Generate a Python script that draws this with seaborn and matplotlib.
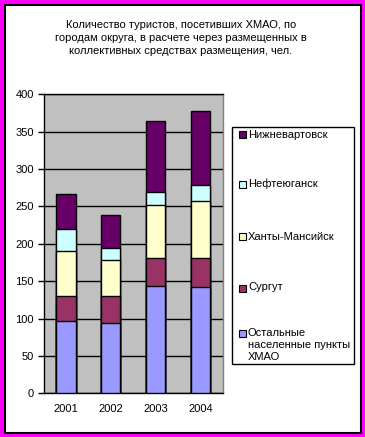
import matplotlib
matplotlib.use("Agg")
import matplotlib.pyplot as plt
from matplotlib.patches import Rectangle
import seaborn as sns
import pandas as pd
import numpy as np

years = ["2001", "2002", "2003", "2004"]
series_names = ["Остальные\nнаселенные пункты\nХМАО", "Сургут", "Ханты-Мансийск", "Нефтеюганск", "Нижневартовск"]
ostalnye = [97, 94, 144, 142]
surgut = [33, 36, 37, 39]
khanty = [61, 48, 71, 76]
nefte = [29, 17, 17, 21]
nizhnev = [47, 44, 95, 100]
colors = ["#9999FF", "#993366", "#FFFFCC", "#CCFFFF", "#660066"]
title = "Количество туристов, посетивших ХМАО, по\nгородам округа, в расчете через размещенных в\nколлективных средствах размещения, чел."
yticks = [0, 50, 100, 150, 200, 250, 300, 350, 400]

sns.set_theme(style="white")
plt.rcParams['font.family'] = ['Liberation Sans', 'DejaVu Sans']

W, H = 365, 437
fig = plt.figure(figsize=(W / 100, H / 100), dpi=100)
fig.patch.set_facecolor("#FF00FF")
# inner white panel with black edge
fig.patches.append(Rectangle((5 / W, 1 - 433 / H), 356 / W, 428 / H, transform=fig.transFigure,
                             facecolor="white", edgecolor="black", linewidth=1.5, zorder=-10))

ax = fig.add_axes([43.5 / W, 1 - 393.3 / H, 179.2 / W, 299 / H])
ax.set_zorder(1)
ax.set_facecolor("#C0C0C0")

vals = [ostalnye, surgut, khanty, nefte, nizhnev]
cum = np.cumsum(np.array(vals), axis=0)
df = pd.DataFrame({"year": years})
for i in range(len(vals)):
    df[f"c{i}"] = cum[i]

for i in reversed(range(len(vals))):
    sns.barplot(data=df, x="year", y=f"c{i}", color=colors[i], saturation=1, width=0.43,
                edgecolor="black", linewidth=1, ax=ax, zorder=3)

ax.set_ylim(0, 400)
ax.set_xlim(-0.5, 3.5)
ax.set_yticks(yticks)
ax.set_yticklabels([str(t) for t in yticks], fontsize=8, color="black")
ax.yaxis.grid(True, color="black", linewidth=1, zorder=1)
ax.set_axisbelow(True)
ax.set_xlabel("")
ax.set_ylabel("")
ax.set_xticks(range(4))
ax.set_xticklabels(years, fontsize=8, color="black")
ax.tick_params(axis="x", which="major", length=0, pad=8)
ax.set_xticks(np.arange(-0.5, 4, 1), minor=True)
ax.tick_params(axis="x", which="minor", length=4, width=1, color="black", direction="out")
ax.tick_params(axis="y", length=4, width=1, color="black", direction="out", left=True, pad=3)
for s in ["left", "bottom", "top"]:
    ax.spines[s].set_color("black")
    ax.spines[s].set_linewidth(1)
ax.spines["right"].set_color("#808080")
ax.spines["right"].set_linewidth(1)

fig.text(181 / W, 1 - 38 / H, title, ha="center", va="center", fontsize=8,
         linespacing=1.35, color="black")

# legend
fig.patches.append(Rectangle((232 / W, 1 - 364 / H), 122 / W, 237 / H, transform=fig.transFigure,
                             facecolor="white", edgecolor="black", linewidth=1, zorder=2))
leg_y = [135, 184, 237, 288, 333]
order = [4, 3, 2, 1, 0]
for yy, i in zip(leg_y, order):
    fig.patches.append(Rectangle((239 / W, 1 - (yy + 3.5) / H), 7 / W, 7 / H, transform=fig.transFigure,
                                 facecolor=colors[i], edgecolor="black", linewidth=0.8, zorder=3))
    fig.text(248 / W, 1 - (yy - 5.5) / H, series_names[i], ha="left", va="top", fontsize=8,
             linespacing=1.3, color="black", zorder=4)

fig.savefig("out.png", dpi=100, facecolor=fig.get_facecolor())
